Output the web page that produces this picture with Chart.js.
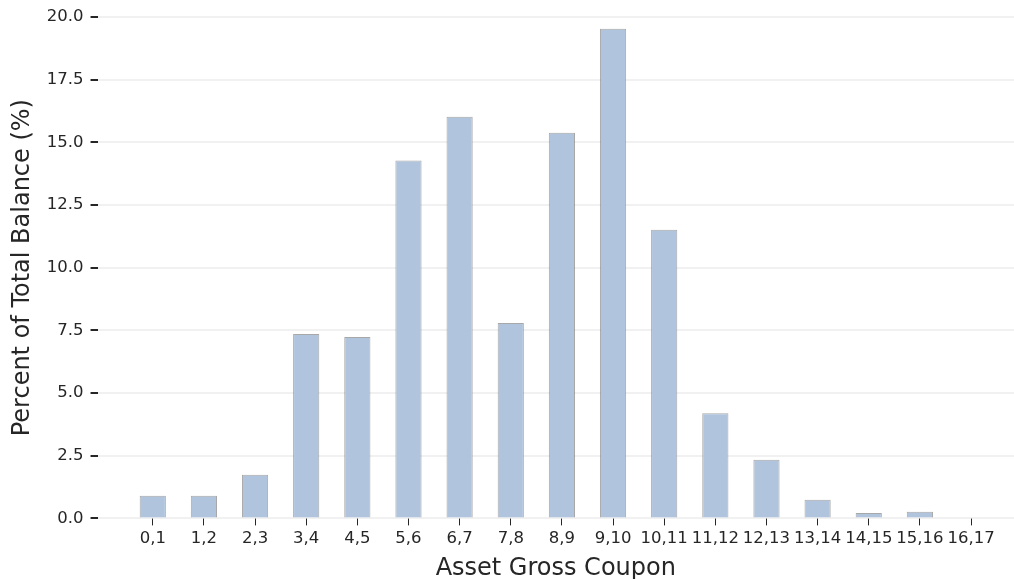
<!DOCTYPE html>
<html>
<head>
<meta charset="utf-8">
<script src="https://cdn.jsdelivr.net/npm/chart.js@4/dist/chart.umd.min.js"></script>
<style>
  html, body { margin: 0; padding: 0; background: #fff; }
  #wrap { width: 1014px; height: 579px; position: relative; }
</style>
</head>
<body>
<div id="wrap"><canvas id="chart"></canvas></div>
<script>
// coupon buckets and their share of total balance (%)
const couponLabels = ['0,1', '1,2', '2,3', '3,4', '4,5', '5,6', '6,7', '7,8', '8,9',
  '9,10', '10,11', '11,12', '12,13', '13,14', '14,15', '15,16', '16,17'];
const balancePct = [0.90, 0.90, 1.74, 7.35, 7.23, 14.27, 16.02, 7.79, 15.38,
  19.53, 11.51, 4.19, 2.34, 0.74, 0.22, 0.27, 0];
const yTicks = [0, 2.5, 5, 7.5, 10, 12.5, 15, 17.5, 20];

const textColor = '#262626';
const font = 'DejaVu Sans';

const points = balancePct.map((v, i) => ({x: i, y: v}));

const ctx = document.getElementById('chart').getContext('2d');
const chart = new Chart(ctx, {
  type: 'bar',
  data: {
    datasets: [{
      label: 'Balance',
      data: points,
      backgroundColor: '#b0c4de',
      borderColor: 'rgba(110,110,110,0.6)',
      borderWidth: 1,
      barPercentage: 0.64,
      categoryPercentage: 0.8
    }]
  },
  options: {
    responsive: true,
    maintainAspectRatio: false,
    animation: false,
    layout: { padding: { top: 9, left: 8, right: 0, bottom: 0 } },
    plugins: {
      legend: { display: false },
      tooltip: { enabled: false }
    },
    scales: {
      x: {
        type: 'linear',
        offset: false,
        min: -1.08,
        max: 16.84,
        afterBuildTicks: scale => {
          scale.ticks = couponLabels.map((_, i) => ({value: i}));
        },
        ticks: {
          autoSkip: false,
          maxRotation: 0,
          padding: 3,
          color: textColor,
          font: { family: font, size: 16.5 },
          callback: v => couponLabels[v]
        },
        grid: {
          offset: false,
          drawOnChartArea: false,
          drawTicks: true,
          tickLength: 7,
          tickColor: textColor
        },
        border: { display: false },
        title: {
          display: true,
          text: 'Asset Gross Coupon',
          color: textColor,
          font: { family: font, size: 24 },
          padding: { top: 3, bottom: -4 }
        }
      },
      y: {
        min: 0,
        max: 20,
        z: 1,
        afterBuildTicks: scale => {
          scale.ticks = yTicks.map(v => ({value: v}));
        },
        ticks: {
          padding: 7,
          color: textColor,
          font: { family: font, size: 16.5 },
          callback: v => v.toFixed(1)
        },
        grid: {
          color: 'rgba(232,232,232,0.6)',
          lineWidth: 2,
          tickLength: 7,
          tickColor: textColor
        },
        border: { display: false },
        title: {
          display: true,
          text: 'Percent of Total Balance (%)',
          color: textColor,
          font: { family: font, size: 24 },
          padding: { top: 0, bottom: 3 }
        }
      }
    }
  }
});
</script>
</body>
</html>
